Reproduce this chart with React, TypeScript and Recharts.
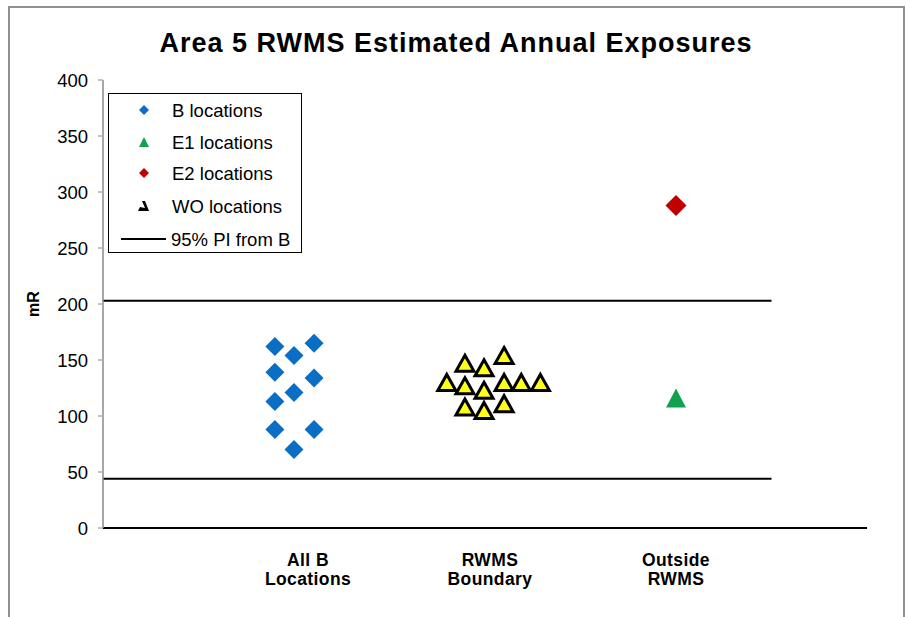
import React from 'react';
import { ScatterChart, Scatter, XAxis, YAxis, ReferenceLine, Legend } from 'recharts';

// ---- data ----
const categoryLabels: string[][] = [
  ['All B', 'Locations'],
  ['RWMS', 'Boundary'],
  ['Outside', 'RWMS'],
];
const categoryX = [1, 2, 3];
const yTicks = [0, 50, 100, 150, 200, 250, 300, 350, 400];

const bX = [0.9, 1.105, 1.0, 0.9, 1.105, 1.0, 0.9, 0.9, 1.105, 1.0];
const bY = [162, 165, 154, 139, 134, 121, 113, 88, 88, 70];

const woX = [1.895, 1.995, 2.1, 1.8, 1.895, 1.995, 2.1, 2.19, 2.29, 1.895, 1.995, 2.1];
const woY = [147, 143, 154, 130, 127, 123, 130, 130, 130, 108, 105, 111];

const e1X = [3];
const e1Y = [116];
const e2X = [3];
const e2Y = [288];

const piUpper = 203;
const piLower = 44;
const piXStart = 0;
const piXEnd = 3.5;

const seriesNames = ['B locations', 'E1 locations', 'E2 locations', 'WO locations', '95% PI from B'];

const zip = (xs: number[], ys: number[]) => xs.map((x, i) => ({ x, y: ys[i] }));
const bData = zip(bX, bY);
const woData = zip(woX, woY);
const e1Data = zip(e1X, e1Y);
const e2Data = zip(e2X, e2Y);

// ---- styles ----
const FONT = '"Liberation Sans", Arial, sans-serif';
const BLUE = '#0a6fc4';
const GREEN = '#10a24e';
const RED = '#c00000';
const YELLOW = '#ffff1a';

const Diamond = (color: string, r: number) => (props: any) => {
  const { cx, cy } = props;
  if (cx == null || cy == null) return null;
  return (
    <path
      d={`M${cx},${cy - r} L${cx + r},${cy} L${cx},${cy + r} L${cx - r},${cy} Z`}
      fill={color}
    />
  );
};

const Triangle = (fill: string, w: number, h: number, stroke?: string, sw?: number) => (props: any) => {
  const { cx, cy } = props;
  if (cx == null || cy == null) return null;
  return (
    <path
      d={`M${cx},${cy - h / 2} L${cx + w / 2},${cy + h / 2} L${cx - w / 2},${cy + h / 2} Z`}
      fill={fill}
      stroke={stroke || 'none'}
      strokeWidth={sw || 0}
      strokeLinejoin="miter"
    />
  );
};

const XTick = (props: any) => {
  const { x, y, payload } = props;
  const idx = categoryX.indexOf(payload.value);
  if (idx < 0) return null;
  const nudge = [14, 5, 0][idx];
  const lines = categoryLabels[idx];
  return (
    <text
      x={x + nudge}
      y={y}
      textAnchor="middle"
      fontFamily={FONT}
      fontSize={17.5}
      fontWeight="bold"
      letterSpacing={0.4}
      fill="#000"
    >
      <tspan x={x + nudge} dy={38}>{lines[0]}</tspan>
      <tspan x={x + nudge} dy={19}>{lines[1]}</tspan>
    </text>
  );
};

const LegendBox = () => {
  const rows = [16, 48, 79, 112, 145];
  const mx = 35;
  const tx = 63;
  return (
    <div
      style={{
        width: 194,
        height: 160,
        border: '1.5px solid #000',
        boxSizing: 'border-box',
        background: '#fff',
      }}
    >
      <svg width={191} height={157} style={{ display: 'block' }}>
        <path d={`M${mx},${rows[0] - 5} L${mx + 5},${rows[0]} L${mx},${rows[0] + 5} L${mx - 5},${rows[0]} Z`} fill={BLUE} />
        <path d={`M${mx},${rows[1] - 5} L${mx + 5},${rows[1] + 5} L${mx - 5},${rows[1] + 5} Z`} fill={GREEN} />
        <path d={`M${mx},${rows[2] - 5} L${mx + 5},${rows[2]} L${mx},${rows[2] + 5} L${mx - 5},${rows[2]} Z`} fill={RED} />
        <path
          d={`M${mx - 6},${rows[3] + 5} L${mx + 5},${rows[3] + 5} L${mx + 1},${rows[3] - 5} L${mx - 2},${rows[3] - 5} L${mx + 1},${rows[3] + 2} L${mx - 4},${rows[3] + 1} Z`}
          fill="#000"
        />
        <line x1={12} x2={57} y1={rows[4]} y2={rows[4]} stroke="#000" strokeWidth={2} />
        {seriesNames.map((n, i) => (
          <text
            key={n}
            x={i === 4 ? 62 : tx}
            y={rows[i]}
            dy={6.5}
            fontFamily={FONT}
            fontSize={18.5}
            fill="#000"
          >
            {n}
          </text>
        ))}
      </svg>
    </div>
  );
};

export default function App() {
  return (
    <div
      style={{
        position: 'absolute',
        left: 0,
        top: 0,
        width: 906,
        height: 617,
        background: '#fff',
        overflow: 'hidden',
      }}
    >
      <ScatterChart
        width={906}
        height={617}
        margin={{ top: 80, right: 39, bottom: 29, left: 43 }}
      >
        <XAxis
          type="number"
          dataKey="x"
          domain={[0, 4]}
          ticks={categoryX}
          interval={0}
          tickLine={false}
          tickSize={0}
          tickMargin={0}
          axisLine={{ stroke: '#000', strokeWidth: 2 }}
          tick={<XTick />}
          height={60}
          allowDataOverflow
        />
        <YAxis
          type="number"
          dataKey="y"
          domain={[0, 400]}
          ticks={yTicks}
          interval={0}
          width={60}
          axisLine={{ stroke: '#8a8a8a', strokeWidth: 1.5 }}
          tickLine={{ stroke: '#b0b0b0', strokeWidth: 1.5 }}
          tickSize={5}
          tickMargin={10}
          tick={{ fill: '#000', fontFamily: FONT, fontSize: 18.5 }}
          label={(p: any) => {
            const vb = p.viewBox || { x: 43, y: 80, width: 60, height: 448 };
            const lx = vb.x - 10;
            const ly = vb.y + vb.height / 2;
            return (
              <text
                x={lx}
                y={ly}
                transform={`rotate(-90 ${lx} ${ly})`}
                textAnchor="middle"
                dominantBaseline="central"
                fontFamily={FONT}
                fontSize={16}
                fontWeight="bold"
                fill="#000"
              >
                mR
              </text>
            );
          }}
        />
        <ReferenceLine
          segment={[{ x: piXStart, y: piUpper }, { x: piXEnd, y: piUpper }]}
          stroke="#000"
          strokeWidth={2}
          ifOverflow="visible"
        />
        <ReferenceLine
          segment={[{ x: piXStart, y: piLower }, { x: piXEnd, y: piLower }]}
          stroke="#000"
          strokeWidth={2}
          ifOverflow="visible"
        />
        <Scatter name={seriesNames[0]} data={bData} shape={Diamond(BLUE, 9.5)} isAnimationActive={false} />
        <Scatter name={seriesNames[1]} data={e1Data} shape={Triangle(GREEN, 20, 19)} isAnimationActive={false} />
        <Scatter name={seriesNames[2]} data={e2Data} shape={Diamond(RED, 10.5)} isAnimationActive={false} />
        <Scatter name={seriesNames[3]} data={woData} shape={Triangle(YELLOW, 18, 16, '#000', 3)} isAnimationActive={false} />
        <Legend
          layout="vertical"
          align="center"
          verticalAlign="middle"
          content={() => <LegendBox />}
          wrapperStyle={{ position: 'absolute', left: 108, top: 93, width: 194, height: 160 }}
        />
      </ScatterChart>
      <svg
        width={906}
        height={617}
        style={{ position: 'absolute', left: 0, top: 0, pointerEvents: 'none' }}
      >
        <path d="M9,630 L9,7 L904,7 L904,630" fill="none" stroke="#909090" strokeWidth={2} />
        <text
          x={456}
          y={52}
          textAnchor="middle"
          fontFamily={FONT}
          fontSize={27}
          fontWeight="bold"
          letterSpacing={1}
          fill="#000"
        >
          Area 5 RWMS Estimated Annual Exposures
        </text>
      </svg>
    </div>
  );
}
